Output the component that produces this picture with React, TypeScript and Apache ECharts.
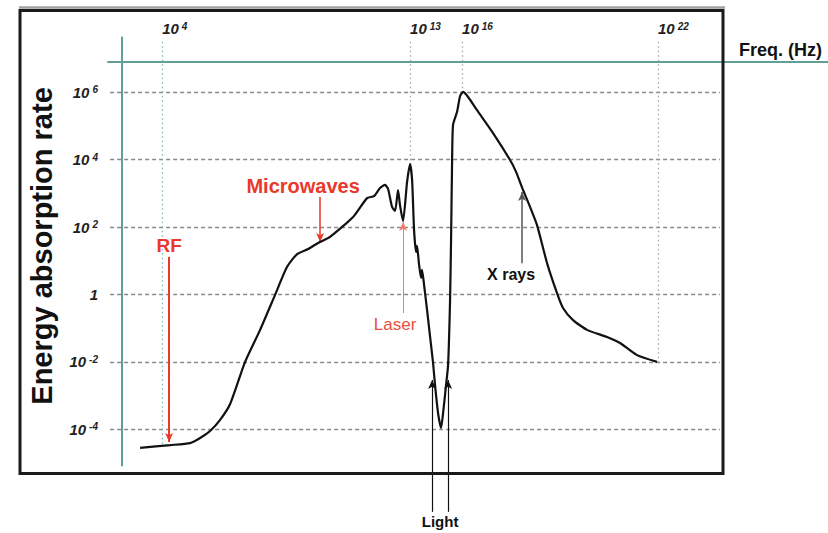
import React, { useEffect, useRef } from 'react';
import * as echarts from 'echarts';

// ---------- data ----------
// Horizontal position along the (non-uniform) frequency axis, in % of axis length
const freqTickPos = [5.67, 40.79, 48.16, 75.92];
const freqTickExp = [4, 13, 16, 22];
// log10 of energy absorption rate
const rateTickExp = [-4, -2, 0, 2, 4, 6];

const curvePos = [
  2.55, 6.8, 9.63, 11.05, 12.46, 13.88, 15.3, 17.42, 19.55, 21.67, 23.37, 24.79, 26.35, 27.76, 29.46,
  32.72, 34.7, 35.69, 36.54, 37.25, 37.68, 38.24, 38.67, 39.09, 39.38, 39.8, 40.37, 40.79, 41.08,
  41.36, 41.64, 41.78, 42.07, 42.35, 42.49, 42.78, 43.2, 43.63, 44.05, 44.33, 44.76, 45.18, 45.47,
  45.89, 46.18, 46.46, 46.6, 46.74, 46.88, 47.45, 47.88, 48.3, 49.01, 50.28, 52.55, 54.96, 55.81,
  56.8, 57.79, 58.78, 60.2, 61.61, 62.46, 63.88, 65.86, 68.7, 70.54, 72.95, 75.78,
];
const curveLogRate = [
  -4.55, -4.47, -4.41, -4.26, -4.05, -3.72, -3.25, -2.0, -1.05, -0.01, 0.82, 1.2, 1.35, 1.53, 1.71,
  2.3, 2.86, 2.92, 3.16, 3.25, 3.13, 2.6, 2.48, 3.1, 2.63, 2.18, 3.34, 3.87, 3.4,
  1.91, 1.26, 1.44, 0.88, 0.49, 0.73, 0.28, -0.46, -1.26, -2.03, -2.69, -3.52, -3.96, -3.52,
  -2.69, -2.09, -0.16, 1.62, 3.84, 5.03, 5.42, 5.89, 6.01, 5.86, 5.47, 4.79, 3.99, 3.64,
  3.1, 2.6, 2.06, 0.93, 0.04, -0.4, -0.76, -1.05, -1.26, -1.44, -1.8, -2.0,
];

const annotationNames = ['RF', 'Microwaves', 'Laser', 'X rays', 'Light', ''];
const annotationPos = [6.66, 28.05, 39.8, 56.66, 43.91, 46.18];
const annotationTail = [1.11, 2.89, -0.55, 0.93, -6.45, -6.45];
const annotationTip = [-4.38, 1.56, 2.15, 3.04, -2.54, -2.54];

// ---------- layout / style ----------
const FONT = "'Liberation Sans', Arial, Helvetica, sans-serif";
const TEAL = '#5f9f97';
const X_MIN = -2;
const X_MAX = 100;
const Y_MIN = -6.6;
const Y_MAX = 7.7;

const annotationStyle: Record<string, any> = {
  RF: { line: { color: '#e8392b', width: 2 }, label: { color: '#e8392b', fontSize: 19, fontWeight: 'bold', distance: 2 } },
  Microwaves: { line: { color: '#e8392b', width: 1.5 }, label: { color: '#e8392b', fontSize: 20, fontWeight: 'bold', distance: 1, padding: [0, 34, 0, 0] } },
  Laser: { line: { color: '#f07a6c', width: 1 }, label: { color: '#e8503f', fontSize: 17, fontWeight: 'normal', distance: 3, padding: [0, 16, 0, 0] } },
  'X rays': { line: { color: '#555', width: 1.5 }, label: { color: '#111', fontSize: 16, fontWeight: 'bold', distance: 3, padding: [0, 22, 0, 0] } },
  Light: { line: { color: '#111', width: 1.2 }, label: { color: '#111', fontSize: 15, fontWeight: 'bold', distance: 2, padding: [0, 0, 0, 16] } },
  '': { line: { color: '#111', width: 1.2 }, label: { show: false } },
};

function curveAt(p: number): number {
  if (p <= curvePos[0]) return curveLogRate[0];
  for (let i = 1; i < curvePos.length; i++) {
    if (p <= curvePos[i]) {
      const t = (p - curvePos[i - 1]) / (curvePos[i] - curvePos[i - 1]);
      return curveLogRate[i - 1] + t * (curveLogRate[i] - curveLogRate[i - 1]);
    }
  }
  return curveLogRate[curveLogRate.length - 1];
}

function buildOption() {
  const ml: any[] = [];
  // vertical teal y-axis line
  ml.push([
    { coord: [0, 7.65], symbol: 'none', lineStyle: { color: TEAL, width: 2, type: 'solid' }, label: { show: false } },
    { coord: [0, -5.1], symbol: 'none' },
  ]);
  // horizontal dashed grid lines
  rateTickExp.forEach((e) => {
    ml.push([
      { coord: [-1.7, e], symbol: 'none', lineStyle: { color: '#8a8a8a', width: 1.4, type: [4, 3] }, label: { show: false } },
      { coord: [84.7, e], symbol: 'none' },
    ]);
  });
  // dotted frequency drop lines
  freqTickPos.forEach((p, i) => {
    ml.push([
      { coord: [p, 7.5], symbol: 'none', lineStyle: { color: i === 0 ? '#79b6b2' : '#a5a5a5', width: 1.3, type: [1.5, 3] }, label: { show: false } },
      { coord: [p, curveAt(p)], symbol: 'none' },
    ]);
  });
  // annotation arrows
  annotationNames.forEach((name, i) => {
    const st = annotationStyle[name];
    ml.push([
      {
        coord: [annotationPos[i], annotationTail[i]],
        symbol: 'none',
        lineStyle: { ...st.line, type: 'solid' },
        label: name
          ? { show: true, position: 'start', formatter: name, fontFamily: FONT, ...st.label }
          : { show: false },
      },
      { coord: [annotationPos[i], annotationTip[i]], symbol: 'arrow', symbolSize: [6, 9] },
    ]);
  });

  const tickRich = {
    b: { fontSize: 15, fontWeight: 'bold', fontStyle: 'italic', color: '#222', fontFamily: FONT, verticalAlign: 'bottom' },
    s: { fontSize: 10, fontWeight: 'bold', fontStyle: 'italic', color: '#222', fontFamily: FONT, verticalAlign: 'top', padding: [0, 0, 0, 3] },
  };

  return {
    animation: false,
    backgroundColor: '#fff',
    grid: { left: 108, right: 0, top: 35, bottom: 16.1 },
    xAxis: {
      type: 'value',
      position: 'top',
      offset: -27,
      min: X_MIN,
      max: X_MAX,
      name: 'Freq. (Hz)',
      nameLocation: 'end',
      nameGap: -6,
      nameTextStyle: { fontSize: 18, fontWeight: 'bold', color: '#111', fontFamily: FONT, align: 'right', verticalAlign: 'bottom', padding: [0, 0, 3, 0] },
      axisLine: { show: true, onZero: false, lineStyle: { color: TEAL, width: 2 } },
      axisTick: { show: false },
      splitLine: { show: false },
      axisLabel: {
        customValues: freqTickPos,
        align: 'left',
        margin: 26,
        formatter: (v: number) => {
          const i = freqTickPos.findIndex((p) => Math.abs(p - v) < 1e-6);
          return i < 0 ? '' : `{b|10}{s|${freqTickExp[i]}}`;
        },
        rich: tickRich,
      },
    },
    yAxis: {
      type: 'value',
      position: 'left',
      offset: -14,
      min: Y_MIN,
      max: Y_MAX,
      name: 'Energy absorption rate',
      nameLocation: 'middle',
      nameRotate: 90,
      nameGap: 66,
      nameTextStyle: { fontSize: 29, fontWeight: 'bold', color: '#111', fontFamily: FONT, padding: [0, 0, 0, 60] },
      axisLine: { show: false, onZero: false },
      axisTick: { show: false },
      splitLine: { show: false },
      axisLabel: {
        customValues: rateTickExp,
        margin: 24,
        formatter: (v: number) => (v === 0 ? '{b|1}' : `{b|10}{s|${v}}`),
        rich: tickRich,
      },
    },
    graphic: [
      { type: 'line', silent: true, shape: { x1: 19, y1: 7.5, x2: 725, y2: 7.5 }, style: { stroke: '#a0a0a0', lineWidth: 2.5 } },
      { type: 'rect', silent: true, z: 10, shape: { x: 20, y: 10.5, width: 703, height: 463 }, style: { fill: 'none', stroke: '#1b1b1b', lineWidth: 3 } },
    ],
    series: [
      {
        type: 'line',
        data: curvePos.map((p, i) => [p, curveLogRate[i]]),
        showSymbol: false,
        smooth: 0.2,
        clip: false,
        silent: true,
        lineStyle: { color: '#111', width: 2.2 },
        z: 3,
        markLine: {
          silent: true,
          z: 1,
          symbol: ['none', 'none'],
          label: { show: false },
          data: ml,
        },
      },
    ],
  };
}

export default function App() {
  const ref = useRef<HTMLDivElement>(null);
  useEffect(() => {
    if (!ref.current) return;
    const chart = echarts.init(ref.current, null, { renderer: 'svg' });
    chart.setOption(buildOption() as any);
    return () => chart.dispose();
  }, []);
  return (
    <div
      ref={ref}
      style={{ position: 'fixed', left: 0, top: 0, width: 828, height: 533, background: '#fff' }}
    />
  );
}
